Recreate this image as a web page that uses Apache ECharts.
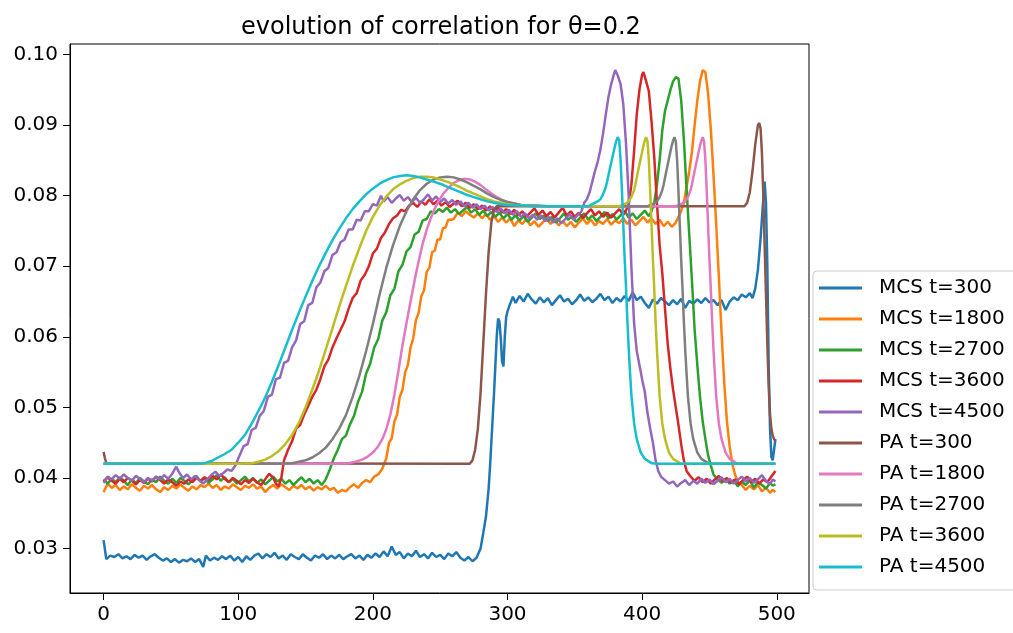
<!DOCTYPE html>
<html>
<head>
<meta charset="utf-8">
<script src="https://cdn.jsdelivr.net/npm/echarts@6.0.0/dist/echarts.min.js"></script>
<style>
  html, body { margin: 0; padding: 0; background: #fff; }
  #main { width: 1013px; height: 633px; }
</style>
</head>
<body>
<div id="main"></div>
<script>
const names = ['MCS t=300', 'MCS t=1800', 'MCS t=2700', 'MCS t=3600', 'MCS t=4500',
  'PA t=300', 'PA t=1800', 'PA t=2700', 'PA t=3600', 'PA t=4500'];
const colors = ['#1f77b4', '#ff7f0e', '#2ca02c', '#d62728', '#9467bd',
  '#8c564b', '#e377c2', '#7f7f7f', '#bcbd22', '#17becf'];
const xTicks = [0, 100, 200, 300, 400, 500];
const yTicks = [0.03, 0.04, 0.05, 0.06, 0.07, 0.08, 0.09, 0.10];

const mcs300 = [[0,0.0312],[2,0.0285],[5,0.0290],[8,0.0288],[11,0.0292],[14,0.0286],[17,0.0289],[20,0.0285],[23,0.0291],[26,0.0287],[29,0.0290],[32,0.0284],[35,0.0289],[38,0.0292],[41,0.0287],[44,0.0283],[47,0.0286],[50,0.0281],[53,0.0285],[56,0.0280],[59,0.0284],[62,0.0282],[65,0.0286],[68,0.0281],[71,0.0285],[74,0.0274],[76,0.0290],[79,0.0283],[82,0.0287],[85,0.0284],[88,0.0289],[91,0.0285],[94,0.0290],[97,0.0283],[100,0.0288],[103,0.0281],[106,0.0289],[109,0.0284],[112,0.0290],[115,0.0293],[118,0.0286],[121,0.0292],[124,0.0288],[127,0.0294],[130,0.0286],[133,0.0290],[136,0.0284],[139,0.0292],[142,0.0288],[145,0.0285],[148,0.0292],[151,0.0287],[154,0.0283],[157,0.0290],[160,0.0287],[163,0.0292],[166,0.0285],[169,0.0290],[172,0.0286],[175,0.0291],[178,0.0285],[181,0.0289],[184,0.0292],[187,0.0286],[190,0.0290],[193,0.0284],[196,0.0291],[199,0.0287],[202,0.0293],[205,0.0288],[208,0.0296],[211,0.0289],[214,0.0303],[217,0.0291],[220,0.0295],[223,0.0286],[226,0.0293],[229,0.0289],[232,0.0297],[235,0.0288],[238,0.0292],[241,0.0286],[244,0.0294],[247,0.0288],[250,0.0291],[253,0.0285],[256,0.0293],[259,0.0289],[262,0.0295],[265,0.0287],[268,0.0283],[271,0.0288],[274,0.0282],[277,0.0287],[280,0.0300],[282,0.0322],[284,0.0345],[286,0.0385],[287,0.0415],[288,0.0450],[289,0.0485],[290,0.0520],[291,0.0560],[292,0.0600],[293,0.0626],[294,0.0622],[295,0.0598],[296,0.0565],[297,0.0558],[298,0.0600],[299,0.0628],[300,0.0636],[302,0.0647],[304,0.0657],[306,0.0648],[309,0.0658],[312,0.0650],[315,0.0661],[318,0.0653],[321,0.0647],[324,0.0656],[327,0.0649],[330,0.0655],[333,0.0645],[336,0.0652],[339,0.0659],[342,0.0650],[345,0.0654],[348,0.0646],[351,0.0652],[354,0.0660],[357,0.0651],[360,0.0656],[363,0.0649],[366,0.0654],[369,0.0661],[372,0.0652],[375,0.0657],[378,0.0648],[381,0.0655],[384,0.0650],[387,0.0658],[390,0.0651],[393,0.0663],[396,0.0652],[399,0.0657],[402,0.0648],[405,0.0641],[408,0.0653],[411,0.0647],[414,0.0655],[417,0.0650],[420,0.0645],[423,0.0652],[426,0.0646],[429,0.0654],[432,0.0641],[435,0.0651],[438,0.0647],[441,0.0653],[444,0.0648],[447,0.0655],[450,0.0649],[453,0.0652],[456,0.0645],[459,0.0652],[462,0.0638],[465,0.0650],[468,0.0656],[471,0.0652],[474,0.0660],[477,0.0656],[480,0.0662],[482,0.0655],[484,0.0668],[486,0.0695],[488,0.0740],[490,0.0795],[491,0.0820],[492,0.0790],[493,0.0700],[494,0.0560],[495,0.0470],[496,0.0430],[497,0.0425],[498,0.0440],[499,0.0455]];

const mcs1800 = [[0,0.0380],[3,0.0392],[6,0.0386],[9,0.0390],[12,0.0383],[15,0.0388],[18,0.0384],[21,0.0391],[24,0.0386],[27,0.0382],[30,0.0389],[33,0.0385],[36,0.0390],[39,0.0384],[42,0.0380],[45,0.0387],[48,0.0383],[51,0.0389],[54,0.0385],[57,0.0391],[60,0.0386],[63,0.0382],[66,0.0388],[69,0.0384],[72,0.0390],[75,0.0387],[78,0.0392],[81,0.0386],[84,0.0390],[87,0.0383],[90,0.0388],[93,0.0385],[96,0.0391],[99,0.0387],[102,0.0383],[105,0.0389],[108,0.0386],[111,0.0391],[114,0.0385],[117,0.0388],[120,0.0380],[123,0.0386],[126,0.0390],[129,0.0385],[132,0.0391],[135,0.0387],[138,0.0383],[141,0.0389],[144,0.0385],[147,0.0390],[150,0.0384],[153,0.0388],[156,0.0382],[159,0.0387],[162,0.0384],[165,0.0389],[168,0.0383],[171,0.0386],[174,0.0379],[177,0.0383],[180,0.0381],[183,0.0387],[186,0.0391],[189,0.0386],[192,0.0393],[195,0.0397],[198,0.0394],[201,0.0402],[204,0.0405],[207,0.0413],[210,0.0428],[212,0.0450],[214,0.0456],[216,0.0480],[218,0.0490],[220,0.0515],[222,0.0525],[224,0.0550],[226,0.0560],[228,0.0585],[230,0.0598],[232,0.0624],[234,0.0634],[236,0.0658],[238,0.0666],[240,0.0692],[242,0.0698],[244,0.0720],[246,0.0722],[248,0.0738],[250,0.0738],[252,0.0754],[254,0.0755],[256,0.0766],[258,0.0766],[260,0.0767],[263,0.0776],[266,0.0771],[269,0.0778],[272,0.0773],[275,0.0769],[278,0.0775],[281,0.0768],[284,0.0774],[287,0.0766],[290,0.0771],[293,0.0763],[296,0.0769],[299,0.0762],[302,0.0768],[305,0.0757],[308,0.0765],[311,0.0760],[314,0.0767],[317,0.0758],[320,0.0764],[323,0.0756],[326,0.0762],[329,0.0768],[332,0.0760],[335,0.0766],[338,0.0758],[341,0.0764],[344,0.0757],[347,0.0763],[350,0.0755],[353,0.0762],[356,0.0768],[359,0.0760],[362,0.0766],[365,0.0758],[368,0.0764],[371,0.0760],[374,0.0767],[377,0.0759],[380,0.0765],[383,0.0761],[386,0.0768],[389,0.0760],[392,0.0766],[395,0.0758],[398,0.0764],[401,0.0770],[404,0.0762],[407,0.0768],[410,0.0760],[413,0.0766],[416,0.0757],[419,0.0763],[422,0.0756],[425,0.0762],[427,0.0770],[429,0.0778],[431,0.0790],[433,0.0812],[435,0.0835],[437,0.0862],[439,0.0900],[441,0.0935],[443,0.0962],[445,0.0978],[446,0.0980],[447,0.0975],[449,0.0945],[451,0.0895],[453,0.0830],[455,0.0760],[457,0.0685],[459,0.0605],[461,0.0535],[463,0.0480],[465,0.0445],[467,0.0420],[469,0.0405],[471,0.0395],[474,0.0390],[477,0.0383],[480,0.0389],[483,0.0384],[486,0.0390],[489,0.0381],[492,0.0386],[495,0.0379],[497,0.0383],[499,0.0380]];

const mcs2700 = [[0,0.0398],[3,0.0392],[6,0.0399],[9,0.0394],[12,0.0401],[15,0.0396],[18,0.0390],[21,0.0398],[24,0.0393],[27,0.0400],[30,0.0395],[33,0.0391],[36,0.0398],[39,0.0394],[42,0.0402],[45,0.0396],[48,0.0392],[51,0.0399],[54,0.0393],[57,0.0400],[60,0.0396],[63,0.0391],[66,0.0397],[69,0.0403],[72,0.0395],[75,0.0400],[78,0.0393],[81,0.0398],[84,0.0404],[87,0.0396],[90,0.0401],[93,0.0394],[96,0.0399],[99,0.0392],[102,0.0397],[105,0.0402],[108,0.0395],[111,0.0400],[114,0.0393],[117,0.0398],[120,0.0391],[123,0.0396],[126,0.0402],[129,0.0395],[132,0.0399],[135,0.0392],[138,0.0397],[141,0.0390],[144,0.0396],[147,0.0401],[150,0.0394],[153,0.0399],[156,0.0392],[159,0.0397],[162,0.0390],[165,0.0398],[168,0.0412],[171,0.0428],[174,0.0440],[177,0.0455],[180,0.0460],[183,0.0476],[186,0.0488],[189,0.0508],[192,0.0522],[195,0.0548],[198,0.0562],[201,0.0585],[204,0.0597],[207,0.0623],[210,0.0635],[213,0.0659],[216,0.0668],[219,0.0693],[222,0.0702],[225,0.0721],[228,0.0727],[231,0.0745],[234,0.0749],[237,0.0765],[240,0.0767],[243,0.0778],[246,0.0775],[249,0.0781],[252,0.0777],[255,0.0783],[258,0.0776],[261,0.0781],[264,0.0774],[267,0.0779],[270,0.0784],[273,0.0776],[276,0.0781],[279,0.0773],[282,0.0779],[285,0.0771],[288,0.0777],[291,0.0770],[294,0.0776],[297,0.0768],[300,0.0774],[303,0.0766],[306,0.0772],[309,0.0765],[312,0.0771],[315,0.0763],[318,0.0769],[321,0.0775],[324,0.0767],[327,0.0772],[330,0.0764],[333,0.0770],[336,0.0762],[339,0.0768],[342,0.0775],[345,0.0766],[348,0.0771],[351,0.0763],[354,0.0769],[357,0.0775],[360,0.0766],[363,0.0772],[366,0.0764],[369,0.0770],[372,0.0777],[375,0.0768],[378,0.0774],[381,0.0766],[384,0.0772],[387,0.0779],[390,0.0769],[393,0.0775],[396,0.0767],[399,0.0773],[402,0.0779],[405,0.0771],[407,0.0778],[409,0.0790],[411,0.0815],[413,0.0850],[415,0.0893],[417,0.0920],[419,0.0935],[421,0.0950],[423,0.0962],[425,0.0968],[427,0.0966],[429,0.0935],[431,0.0880],[433,0.0810],[435,0.0745],[437,0.0680],[439,0.0610],[441,0.0560],[443,0.0515],[445,0.0480],[447,0.0455],[449,0.0432],[451,0.0418],[453,0.0405],[456,0.0398],[459,0.0393],[462,0.0399],[465,0.0392],[468,0.0397],[471,0.0388],[474,0.0395],[477,0.0390],[480,0.0397],[483,0.0386],[486,0.0394],[489,0.0390],[492,0.0385],[495,0.0393],[497,0.0389],[499,0.0391]];

const mcs3600 = [[0,0.0395],[3,0.0401],[6,0.0396],[9,0.0392],[12,0.0399],[15,0.0394],[18,0.0400],[21,0.0396],[24,0.0391],[27,0.0397],[30,0.0393],[33,0.0399],[36,0.0395],[39,0.0402],[42,0.0397],[45,0.0392],[48,0.0398],[51,0.0394],[54,0.0389],[57,0.0395],[60,0.0392],[63,0.0398],[66,0.0394],[69,0.0400],[72,0.0396],[75,0.0401],[78,0.0397],[81,0.0403],[84,0.0398],[87,0.0405],[90,0.0399],[93,0.0394],[96,0.0400],[99,0.0396],[102,0.0391],[105,0.0397],[108,0.0393],[111,0.0399],[114,0.0394],[117,0.0390],[120,0.0398],[123,0.0406],[126,0.0400],[128,0.0392],[130,0.0388],[132,0.0400],[134,0.0425],[137,0.0440],[140,0.0452],[143,0.0470],[146,0.0475],[149,0.0490],[152,0.0502],[155,0.0515],[158,0.0525],[161,0.0540],[164,0.0558],[167,0.0568],[170,0.0585],[173,0.0598],[176,0.0610],[179,0.0622],[182,0.0640],[185,0.0655],[188,0.0662],[191,0.0680],[194,0.0688],[197,0.0700],[200,0.0718],[203,0.0725],[206,0.0740],[209,0.0748],[212,0.0760],[215,0.0768],[218,0.0772],[221,0.0780],[224,0.0778],[227,0.0786],[230,0.0790],[233,0.0784],[236,0.0792],[239,0.0787],[242,0.0795],[245,0.0788],[248,0.0793],[251,0.0786],[254,0.0791],[257,0.0784],[260,0.0789],[263,0.0793],[266,0.0785],[269,0.0790],[272,0.0783],[275,0.0788],[278,0.0781],[281,0.0786],[284,0.0779],[287,0.0785],[290,0.0778],[293,0.0783],[296,0.0776],[299,0.0781],[302,0.0774],[305,0.0780],[308,0.0772],[311,0.0778],[314,0.0770],[317,0.0776],[320,0.0782],[323,0.0773],[326,0.0779],[329,0.0771],[332,0.0777],[335,0.0769],[338,0.0776],[341,0.0783],[344,0.0772],[347,0.0778],[350,0.0770],[353,0.0776],[356,0.0768],[359,0.0775],[362,0.0781],[365,0.0772],[368,0.0778],[371,0.0770],[374,0.0776],[377,0.0769],[380,0.0775],[383,0.0781],[386,0.0773],[388,0.0779],[390,0.0788],[392,0.0815],[394,0.0862],[396,0.0915],[398,0.0950],[400,0.0972],[401,0.0975],[403,0.0962],[405,0.0948],[407,0.0905],[409,0.0855],[411,0.0790],[413,0.0730],[415,0.0690],[417,0.0640],[419,0.0590],[421,0.0555],[423,0.0525],[425,0.0500],[427,0.0475],[429,0.0448],[431,0.0425],[433,0.0410],[436,0.0402],[439,0.0396],[442,0.0401],[445,0.0394],[448,0.0399],[451,0.0392],[454,0.0398],[457,0.0403],[460,0.0395],[463,0.0400],[466,0.0393],[469,0.0398],[472,0.0391],[475,0.0397],[478,0.0402],[481,0.0394],[484,0.0399],[487,0.0392],[490,0.0398],[493,0.0394],[496,0.0402],[499,0.0410]];

const mcs4500 = [[0,0.0393],[3,0.0402],[6,0.0398],[9,0.0404],[12,0.0399],[15,0.0405],[18,0.0400],[21,0.0396],[24,0.0403],[27,0.0399],[30,0.0394],[33,0.0400],[36,0.0396],[39,0.0402],[42,0.0398],[45,0.0404],[48,0.0399],[51,0.0406],[54,0.0416],[56,0.0408],[59,0.0400],[62,0.0405],[65,0.0398],[68,0.0403],[71,0.0397],[74,0.0392],[77,0.0398],[80,0.0404],[83,0.0409],[86,0.0403],[89,0.0407],[92,0.0412],[95,0.0410],[98,0.0418],[101,0.0432],[104,0.0445],[107,0.0448],[110,0.0468],[113,0.0471],[116,0.0488],[119,0.0495],[122,0.0515],[125,0.0518],[128,0.0540],[131,0.0542],[134,0.0563],[137,0.0566],[140,0.0585],[143,0.0595],[146,0.0618],[149,0.0622],[152,0.0645],[155,0.0648],[158,0.0670],[161,0.0677],[164,0.0693],[167,0.0698],[170,0.0716],[173,0.0720],[176,0.0734],[179,0.0738],[182,0.0752],[185,0.0752],[188,0.0766],[191,0.0765],[194,0.0778],[197,0.0778],[200,0.0788],[203,0.0786],[206,0.0800],[208,0.0792],[211,0.0798],[214,0.0790],[217,0.0796],[220,0.0801],[223,0.0793],[226,0.0798],[229,0.0791],[232,0.0797],[235,0.0790],[238,0.0795],[241,0.0802],[244,0.0793],[247,0.0799],[250,0.0791],[253,0.0796],[256,0.0789],[259,0.0794],[262,0.0787],[265,0.0792],[268,0.0785],[271,0.0790],[274,0.0783],[277,0.0788],[280,0.0781],[283,0.0786],[286,0.0779],[289,0.0784],[292,0.0777],[295,0.0782],[298,0.0775],[301,0.0780],[304,0.0773],[307,0.0778],[310,0.0770],[313,0.0775],[316,0.0768],[319,0.0773],[322,0.0766],[325,0.0772],[328,0.0764],[331,0.0770],[334,0.0762],[337,0.0768],[340,0.0761],[343,0.0767],[346,0.0774],[349,0.0766],[352,0.0772],[355,0.0778],[357,0.0790],[359,0.0795],[361,0.0805],[363,0.0820],[365,0.0835],[367,0.0848],[369,0.0865],[371,0.0888],[373,0.0915],[375,0.0940],[377,0.0958],[379,0.0972],[380,0.0978],[382,0.0970],[384,0.0958],[386,0.0930],[388,0.0875],[390,0.0800],[392,0.0700],[394,0.0620],[396,0.0580],[398,0.0560],[400,0.0540],[402,0.0522],[404,0.0492],[406,0.0470],[408,0.0450],[410,0.0425],[412,0.0410],[414,0.0402],[417,0.0397],[420,0.0392],[423,0.0395],[426,0.0388],[429,0.0393],[432,0.0397],[435,0.0390],[438,0.0396],[441,0.0392],[444,0.0399],[447,0.0393],[450,0.0398],[453,0.0391],[456,0.0396],[459,0.0401],[462,0.0394],[465,0.0399],[468,0.0392],[471,0.0397],[474,0.0402],[477,0.0395],[480,0.0400],[483,0.0393],[486,0.0398],[489,0.0404],[492,0.0396],[495,0.0391],[497,0.0398],[499,0.0395]];

const pa300 = [[0,0.0437],[1,0.0428],[2,0.0421],[3,0.0420],[272,0.0420],[274,0.0425],[276,0.0440],[278,0.0470],[280,0.0520],[282,0.0590],[284,0.0660],[286,0.0720],[288,0.0762],[290,0.0780],[292,0.0785],[476,0.0785],[478,0.0790],[480,0.0805],[482,0.0835],[484,0.0872],[486,0.0900],[487,0.0903],[488,0.0895],[489,0.0860],[490,0.0800],[491,0.0730],[492,0.0660],[493,0.0590],[494,0.0530],[495,0.0490],[496,0.0470],[497,0.0460],[498,0.0455],[499,0.0452]];

const pa1800 = [[0,0.0420],[175,0.0420],[182,0.0421],[187,0.0423],[192,0.0426],[196,0.0430],[200,0.0436],[204,0.0445],[207,0.0455],[210,0.0469],[213,0.0490],[216,0.0518],[219,0.0552],[222,0.0588],[225,0.0620],[228,0.0650],[231,0.0680],[234,0.0707],[237,0.0732],[240,0.0752],[243,0.0768],[246,0.0782],[249,0.0793],[252,0.0802],[256,0.0811],[260,0.0818],[264,0.0822],[268,0.0824],[272,0.0823],[276,0.0820],[280,0.0815],[284,0.0809],[288,0.0803],[292,0.0798],[296,0.0794],[300,0.0791],[305,0.0789],[310,0.0787],[318,0.0786],[330,0.0785],[425,0.0785],[427,0.0787],[430,0.0789],[432,0.0792],[434,0.0798],[436,0.0808],[437,0.0816],[439,0.0835],[441,0.0853],[443,0.0871],[444,0.0878],[445,0.0883],[446,0.0877],[447,0.0850],[448,0.0806],[449,0.0758],[450,0.0710],[451,0.0668],[452,0.0622],[453,0.0582],[454,0.0548],[455,0.0516],[457,0.0477],[459,0.0455],[462,0.0436],[465,0.0427],[470,0.0421],[475,0.0420],[499,0.0420]];

const pa2700 = [[0,0.0420],[130,0.0420],[140,0.0421],[145,0.0423],[150,0.0425],[155,0.0429],[160,0.0435],[165,0.0443],[170,0.0455],[175,0.0470],[180,0.0489],[185,0.0515],[190,0.0545],[195,0.0580],[200,0.0618],[205,0.0660],[210,0.0698],[215,0.0730],[220,0.0757],[225,0.0778],[230,0.0795],[235,0.0808],[240,0.0817],[245,0.0823],[250,0.0826],[255,0.0827],[260,0.0826],[265,0.0823],[270,0.0819],[275,0.0814],[280,0.0809],[285,0.0803],[290,0.0798],[295,0.0794],[300,0.0791],[305,0.0789],[310,0.0787],[320,0.0786],[330,0.0785],[404,0.0785],[406,0.0787],[409,0.0789],[411,0.0792],[413,0.0798],[415,0.0808],[416,0.0816],[418,0.0835],[420,0.0853],[422,0.0871],[423,0.0878],[424,0.0883],[425,0.0877],[426,0.0850],[427,0.0806],[428,0.0758],[429,0.0710],[430,0.0668],[431,0.0622],[432,0.0582],[433,0.0548],[434,0.0516],[436,0.0477],[438,0.0455],[441,0.0436],[444,0.0427],[449,0.0421],[454,0.0420],[499,0.0420]];

const pa3600 = [[0,0.0420],[100,0.0420],[110,0.0421],[115,0.0423],[120,0.0426],[125,0.0431],[130,0.0438],[135,0.0448],[140,0.0461],[145,0.0478],[150,0.0500],[155,0.0525],[160,0.0552],[165,0.0582],[170,0.0612],[175,0.0643],[180,0.0672],[185,0.0700],[190,0.0726],[195,0.0750],[200,0.0770],[205,0.0786],[210,0.0799],[215,0.0809],[220,0.0816],[225,0.0821],[230,0.0825],[235,0.0827],[240,0.0827],[245,0.0826],[250,0.0823],[255,0.0820],[260,0.0816],[265,0.0812],[270,0.0807],[275,0.0803],[280,0.0799],[285,0.0795],[290,0.0792],[295,0.0790],[300,0.0788],[305,0.0787],[315,0.0786],[325,0.0785],[383,0.0785],[385,0.0787],[388,0.0789],[390,0.0792],[392,0.0798],[394,0.0808],[395,0.0816],[397,0.0835],[399,0.0853],[401,0.0871],[402,0.0878],[403,0.0883],[404,0.0877],[405,0.0850],[406,0.0806],[407,0.0758],[408,0.0710],[409,0.0668],[410,0.0622],[411,0.0582],[412,0.0548],[413,0.0516],[415,0.0477],[417,0.0455],[420,0.0436],[423,0.0427],[428,0.0421],[433,0.0420],[499,0.0420]];

const pa4500 = [[0,0.0420],[70,0.0420],[75,0.0421],[80,0.0424],[85,0.0429],[90,0.0434],[95,0.0440],[100,0.0450],[105,0.0461],[110,0.0477],[115,0.0495],[120,0.0514],[125,0.0536],[130,0.0560],[135,0.0585],[140,0.0610],[145,0.0634],[150,0.0657],[155,0.0679],[160,0.0700],[165,0.0719],[170,0.0737],[175,0.0753],[180,0.0768],[185,0.0781],[190,0.0792],[195,0.0802],[200,0.0810],[205,0.0817],[210,0.0822],[215,0.0826],[220,0.0828],[225,0.0829],[230,0.0828],[235,0.0826],[240,0.0823],[245,0.0820],[250,0.0817],[255,0.0813],[260,0.0809],[265,0.0805],[270,0.0801],[275,0.0798],[280,0.0795],[285,0.0792],[290,0.0790],[295,0.0788],[300,0.0787],[310,0.0786],[320,0.0785],[360,0.0785],[364,0.0789],[367,0.0792],[369,0.0795],[371,0.0802],[373,0.0812],[374,0.0820],[376,0.0838],[378,0.0855],[380,0.0872],[381,0.0879],[382,0.0883],[383,0.0878],[384,0.0850],[385,0.0808],[386,0.0760],[387,0.0712],[388,0.0672],[389,0.0625],[390,0.0585],[391,0.0550],[392,0.0518],[394,0.0478],[396,0.0455],[399,0.0436],[402,0.0427],[407,0.0421],[412,0.0420],[499,0.0420]];

const seriesData = [mcs300, mcs1800, mcs2700, mcs3600, mcs4500, pa300, pa1800, pa2700, pa3600, pa4500];

const font = 'DejaVu Sans';
var chartDom = document.getElementById('main');
var myChart = echarts.init(chartDom, null, { renderer: 'canvas' });
var option;

option = {
  animation: false,
  color: colors,
  title: {
    text: 'evolution of correlation for θ=0.2',
    left: 236,
    top: 11,
    textStyle: { fontFamily: font, fontSize: 24, fontWeight: 'normal', color: '#000' }
  },
  grid: {
    left: 70,
    right: 204,
    top: 44,
    bottom: 40,
    show: true,
    borderColor: '#000',
    borderWidth: 1
  },
  legend: {
    orient: 'vertical',
    left: 813,
    top: 271,
    data: names,
    icon: 'rect',
    itemWidth: 43,
    itemHeight: 3,
    itemGap: 11,
    padding: [7, 80, 13, 6],
    borderColor: '#cccccc',
    borderWidth: 1,
    borderRadius: 4,
    backgroundColor: '#fff',
    textStyle: { fontFamily: font, fontSize: 20, lineHeight: 20, color: '#000', padding: [0, 0, 0, 12] }
  },
  xAxis: {
    type: 'value',
    min: -24.95,
    max: 523.95,
    splitLine: { show: false },
    axisLine: { show: true, onZero: false, lineStyle: { color: '#000', width: 1 } },
    axisTick: { show: true, length: 7, customValues: xTicks, lineStyle: { color: '#000' } },
    axisLabel: {
      customValues: xTicks,
      margin: 12,
      fontFamily: font,
      fontSize: 20,
      color: '#000'
    }
  },
  yAxis: {
    type: 'value',
    min: 0.0237,
    max: 0.1015,
    splitLine: { show: false },
    axisLine: { show: true, onZero: false, lineStyle: { color: '#000', width: 1 } },
    axisTick: { show: true, length: 7, customValues: yTicks, lineStyle: { color: '#000' } },
    axisLabel: {
      customValues: yTicks,
      margin: 12,
      fontFamily: font,
      fontSize: 20,
      color: '#000',
      formatter: v => v.toFixed(2)
    }
  },
  series: seriesData.map((d, i) => ({
    name: names[i],
    type: 'line',
    data: d,
    symbol: 'none',
    showSymbol: false,
    lineStyle: { width: 2.5, color: colors[i] },
    itemStyle: { color: colors[i] }
  }))
};

option && myChart.setOption(option);
</script>
</body>
</html>
